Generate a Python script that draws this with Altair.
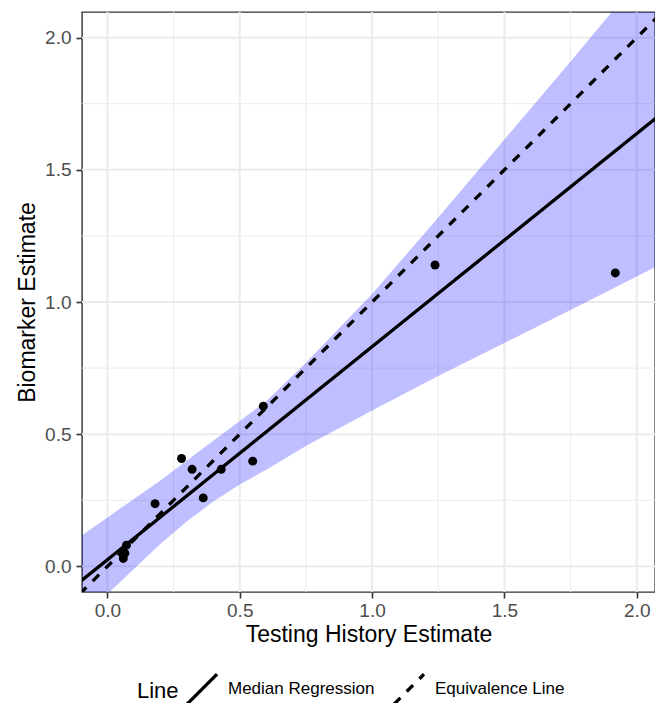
import altair as alt
import pandas as pd

# ---- data ----
x_obs = [0.06, 0.066, 0.072, 0.18, 0.28, 0.32, 0.362, 0.43, 0.549, 0.589, 1.238, 1.919]
y_obs = [0.03, 0.05, 0.08, 0.237, 0.408, 0.367, 0.259, 0.367, 0.398, 0.606, 1.14, 1.11]

band_x = [-0.1, 0.0, 0.1, 0.2, 0.3, 0.4, 0.5, 0.6, 0.75, 1.0, 1.25, 1.5, 1.75, 2.1]
band_lo = [-0.20, -0.105, -0.01, 0.085, 0.17, 0.245, 0.31, 0.365, 0.455, 0.59, 0.72, 0.845, 0.97, 1.147]
band_hi = [0.115, 0.185, 0.255, 0.325, 0.40, 0.475, 0.55, 0.625, 0.77, 1.03, 1.32, 1.615, 1.91, 2.33]

line_names = ["Median Regression", "Equivalence Line"]
line_intercepts = [0.025, 0.0]
line_slopes = [0.806, 1.0]
line_x_ends = [-0.2, 2.2]

x_domain = [-0.096, 2.069]
y_domain = [-0.097, 2.097]
major_ticks = [0.0, 0.5, 1.0, 1.5, 2.0]
minor_ticks = [0.25, 0.75, 1.25, 1.75]

FONT = "Liberation Sans"

obs = pd.DataFrame({"x": x_obs, "y": y_obs})
band = pd.DataFrame({"x": band_x, "lo": band_lo, "hi": band_hi})
rows = []
for name, a, b in zip(line_names, line_intercepts, line_slopes):
    for xe in line_x_ends:
        rows.append({"Line": name, "x": xe, "y": a + b * xe})
lines = pd.DataFrame(rows)
major = pd.DataFrame({"v": major_ticks})
minor = pd.DataFrame({"v": minor_ticks})

xscale = alt.Scale(domain=x_domain, nice=False, zero=False)
yscale = alt.Scale(domain=y_domain, nice=False, zero=False)

common_axis = dict(
    values=major_ticks, format=".1f", grid=False, domain=False,
    tickColor="#333333", tickWidth=1.6, tickSize=6,
    labelColor="#4D4D4D", labelFontSize=19, labelFont=FONT,
    titleFontSize=23, titleFont=FONT, titleColor="black", titleFontWeight="normal",
)
x_axis = alt.Axis(labelPadding=3, titlePadding=3, **common_axis)
y_axis = alt.Axis(labelPadding=5, titlePadding=5, **common_axis)
XT = "Testing History Estimate"
YT = "Biomarker Estimate"

def X(field):
    return alt.X(field, type="quantitative", scale=xscale, axis=x_axis, title=XT)

def Y(field):
    return alt.Y(field, type="quantitative", scale=yscale, axis=y_axis, title=YT)

grid_minor_v = alt.Chart(minor).mark_rule(color="#EBEBEB", strokeWidth=1).encode(x=X("v"))
grid_minor_h = alt.Chart(minor).mark_rule(color="#EBEBEB", strokeWidth=1).encode(y=Y("v"))
grid_major_v = alt.Chart(major).mark_rule(color="#EBEBEB", strokeWidth=2).encode(x=X("v"))
grid_major_h = alt.Chart(major).mark_rule(color="#EBEBEB", strokeWidth=2).encode(y=Y("v"))

ribbon = alt.Chart(band).mark_area(color="blue", opacity=0.25, clip=True).encode(
    x=X("x"), y=Y("lo"), y2="hi"
)

line_layer = alt.Chart(lines).mark_line(color="black", strokeWidth=3.3, clip=True).encode(
    x=X("x"),
    y=Y("y"),
    detail="Line:N",
    strokeDash=alt.StrokeDash(
        "Line:N",
        scale=alt.Scale(domain=line_names, range=[[1, 0], [9, 9]]),
        legend=alt.Legend(
            title="Line", orient="none", direction="horizontal", titleOrient="left",
            titleAnchor="middle", titleBaseline="middle",
            legendX=55, legendY=660,
            symbolType="M-1,1L1,-1", symbolSize=900, symbolStrokeWidth=3.3,
            symbolStrokeColor="black", symbolFillColor="transparent",
            labelFont=FONT, labelFontSize=17, labelColor="black", labelOffset=9,
            titleFont=FONT, titleFontSize=22, titleFontWeight="normal", titleColor="black",
            titlePadding=6, columnPadding=12,
        ),
    ),
)

points = alt.Chart(obs).mark_circle(color="black", opacity=1, size=80, clip=True).encode(
    x=X("x"), y=Y("y")
)

chart = alt.layer(
    grid_minor_v, grid_minor_h, grid_major_v, grid_major_h, ribbon, line_layer, points
).properties(
    width=573, height=580,
    autosize=alt.AutoSizeParams(type="none"),
    padding={"left": 74, "top": 4, "right": 0, "bottom": 111},
    background="white",
).configure_view(
    stroke="#333333", strokeWidth=1.4
)

chart.save("out.html", embed_options={"renderer": "svg", "actions": False})
